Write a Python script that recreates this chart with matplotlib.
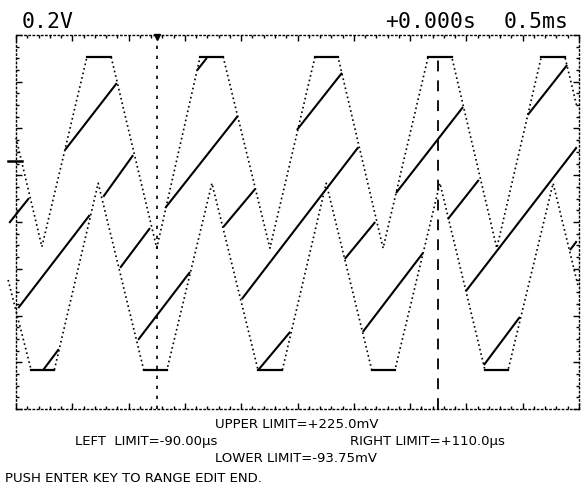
import numpy as np
import matplotlib.pyplot as plt
from matplotlib.ticker import MultipleLocator

# Pantalla del osciloscopio: 10 divisiones en x, 8 divisiones en y
# Onda A (recortada arriba), vertices en divisiones
wave_a_x = [0.00, 0.46, 1.26, 1.69, 2.50, 3.27, 3.68, 4.51, 5.31, 5.72, 6.52, 7.32, 7.74, 8.54, 9.33, 9.75, 9.96]
wave_a_y = [5.80, 3.47, 7.53, 7.53, 3.44, 7.53, 7.53, 3.44, 7.53, 7.53, 3.44, 7.53, 7.53, 3.44, 7.53, 7.53, 6.48]

# Onda B (recortada abajo)
wave_b_x = [-0.14, 0.27, 0.68, 1.46, 2.27, 2.68, 3.48, 4.30, 4.73, 5.51, 6.32, 6.73, 7.53, 8.33, 8.74, 9.54, 9.98]
wave_b_y = [2.76, 0.83, 0.83, 4.83, 0.83, 0.83, 4.83, 0.83, 0.83, 4.83, 0.83, 0.83, 4.83, 0.83, 0.83, 4.83, 2.65]

# Tramos continuos (rampas)
seg_x0 = [0.04, -0.12, 0.48, 0.87, 1.55, 1.85, 2.17, 2.65, 3.22, 3.68, 4.01, 4.30, 4.99, 5.84, 6.16, 6.75, 7.67, 7.99, 8.31, 9.09, 9.84]
seg_y0 = [2.16, 3.98, 0.83, 5.54, 4.54, 3.02, 1.48, 4.30, 7.25, 3.89, 2.35, 0.83, 5.97, 3.21, 1.65, 4.62, 4.06, 2.52, 0.94, 6.29, 3.40]
seg_x1 = [1.31, 0.23, 0.76, 1.79, 2.08, 2.38, 3.09, 3.94, 3.39, 4.25, 6.08, 4.87, 5.79, 6.38, 7.23, 7.94, 8.22, 9.96, 8.95, 9.79, 9.96]
seg_y1 = [4.15, 4.51, 1.28, 6.97, 5.43, 3.87, 2.93, 6.27, 7.51, 4.71, 5.60, 1.65, 7.19, 4.00, 3.34, 6.46, 4.90, 5.60, 1.97, 7.36, 3.59]

# Cursores verticales
cursor_x = [2.50, 7.50]
cursor_top = [8.0, 7.53]

# nivel de disparo (marca a la izquierda)
trig_level = 5.30

top_left = "0.2V"
top_pos = "+0.000s"
top_scale = "0.5ms"
limits = ["UPPER LIMIT=+225.0mV",
          "LEFT  LIMIT=-90.00\u03bcs",
          "RIGHT LIMIT=+110.0\u03bcs",
          "LOWER LIMIT=-93.75mV",
          "PUSH ENTER KEY TO RANGE EDIT END."]

W, H = 582, 497
fig = plt.figure(figsize=(W / 100, H / 100), dpi=100)
ax = fig.add_axes([16 / W, (H - 409) / H, 563 / W, 374 / H])
ax.set_xlim(0, 10)
ax.set_ylim(0, 8)

dots = (0, (1, 1.8))
for wx, wy in [(wave_a_x, wave_a_y), (wave_b_x, wave_b_y)]:
    ax.plot(wx, wy, color='black', lw=1.2, linestyle=dots, dash_capstyle='butt', clip_on=False)
    # tramos planos (recorte) se ven continuos
    for i in range(len(wx) - 1):
        if wy[i] == wy[i + 1]:
            ax.plot([wx[i], wx[i + 1]], [wy[i], wy[i + 1]], color='black', lw=1.6, clip_on=False)

for i in range(len(seg_x0)):
    ax.plot([seg_x0[i], seg_x1[i]], [seg_y0[i], seg_y1[i]], color='black', lw=1.5,
            solid_capstyle='butt', clip_on=False)

ax.plot([cursor_x[0]] * 2, [0, cursor_top[0]], color='black', lw=1.2, linestyle=(0, (2, 4)))
ax.plot([cursor_x[1]] * 2, [0, cursor_top[1]], color='black', lw=1.3, linestyle=(0, (6, 5)))
ax.plot(cursor_x[0], 7.95, marker='v', color='black', markersize=5, clip_on=False)
ax.plot([-0.14, 0.11], [trig_level, trig_level], color='black', lw=1.8, clip_on=False)

# marco punteado con marcas hacia adentro
for s in ax.spines.values():
    s.set_linestyle((0, (1, 2)))
    s.set_linewidth(1.0)
ax.xaxis.set_major_locator(MultipleLocator(1))
ax.xaxis.set_minor_locator(MultipleLocator(0.2))
ax.yaxis.set_major_locator(MultipleLocator(1))
ax.yaxis.set_minor_locator(MultipleLocator(0.25))
ax.tick_params(which='both', direction='in', top=True, right=True,
               labelbottom=False, labelleft=False, width=1)
ax.tick_params(which='major', length=4)
ax.tick_params(which='minor', length=2)

fig.text(22 / W, 1 - 28 / H, top_left, family='DejaVu Sans Mono', fontsize=15.5, va='baseline')
fig.text(476 / W, 1 - 28 / H, top_pos, family='DejaVu Sans Mono', fontsize=15.5, va='baseline', ha='right')
fig.text(569 / W, 1 - 28 / H, top_scale, family='DejaVu Sans Mono', fontsize=15.5, va='baseline', ha='right')

fig.text(215 / W, 1 - 425 / H, limits[0], fontsize=9.5, va='center')
fig.text(75 / W, 1 - 442 / H, limits[1], fontsize=9.5, va='center')
fig.text(350 / W, 1 - 442 / H, limits[2], fontsize=9.5, va='center')
fig.text(215 / W, 1 - 459 / H, limits[3], fontsize=9.5, va='center')
fig.text(5 / W, 1 - 478 / H, limits[4], fontsize=9.5, va='center')

fig.savefig('out.png', dpi=100, facecolor='white')
